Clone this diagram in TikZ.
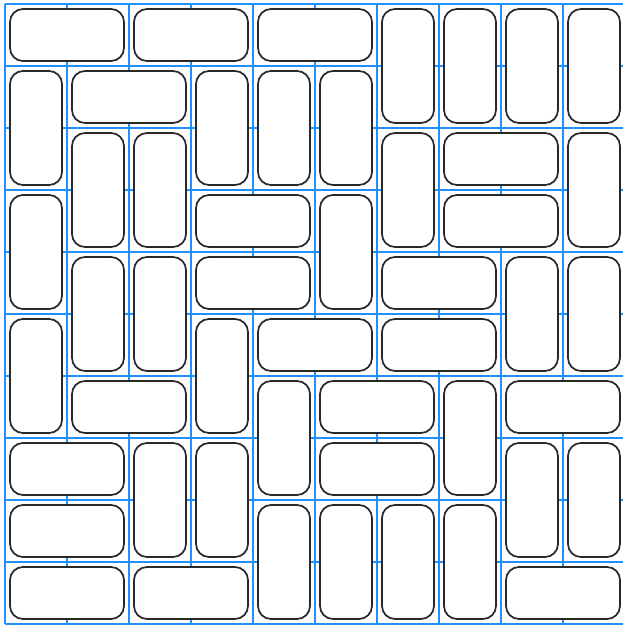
\documentclass[tikz,border=0pt]{standalone}
\definecolor{gridblue}{RGB}{30,144,255}
\definecolor{edgegray}{RGB}{40,40,40}
\tikzset{
  gridline/.style={draw=gridblue, line width=1.6pt},
  domino/.style={draw=edgegray, fill=white, line width=1.7pt, rounded corners=13pt, rectangle, inner sep=0pt, outer sep=0pt},
  hdom/.style={domino, minimum width=114pt, minimum height=52pt},
  vdom/.style={domino, minimum width=52pt, minimum height=114pt}
}
\begin{document}
\begin{tikzpicture}[x=1pt,y=-1pt]
\useasboundingbox (0,0) rectangle (623,626);
\clip (0,0) rectangle (623,626);
\fill[white] (0,0) rectangle (623,626);
\foreach \k in {0,...,10} {
  \coordinate (xa\k) at ({5+62*\k},4);
  \coordinate (xb\k) at ({5+62*\k},624);
  \coordinate (ya\k) at (5,{4+62*\k});
  \coordinate (yb\k) at (625,{4+62*\k});
  \draw[gridline] (xa\k) -- (xb\k);
  \draw[gridline] (ya\k) -- (yb\k);
}
% horizontal dominoes: row/col of left cell
\foreach \r/\c in {0/0,0/2,0/4,1/1,2/7,3/3,3/7,4/3,4/6,5/4,5/6,6/1,6/5,6/8,7/0,7/5,8/0,9/0,9/2,9/8} {
  \node[hdom] (h\r-\c) at ({67+62*\c},{35+62*\r}) {};
}
% vertical dominoes: row of top cell / col
\foreach \r/\c in {0/6,0/7,0/8,0/9,1/0,1/3,1/4,1/5,2/1,2/2,2/6,2/9,3/0,3/5,4/1,4/2,4/8,4/9,5/0,5/3,6/4,6/7,7/2,7/3,7/8,7/9,8/4,8/5,8/6,8/7} {
  \node[vdom] (v\r-\c) at ({36+62*\c},{66+62*\r}) {};
}
\end{tikzpicture}
\end{document}
